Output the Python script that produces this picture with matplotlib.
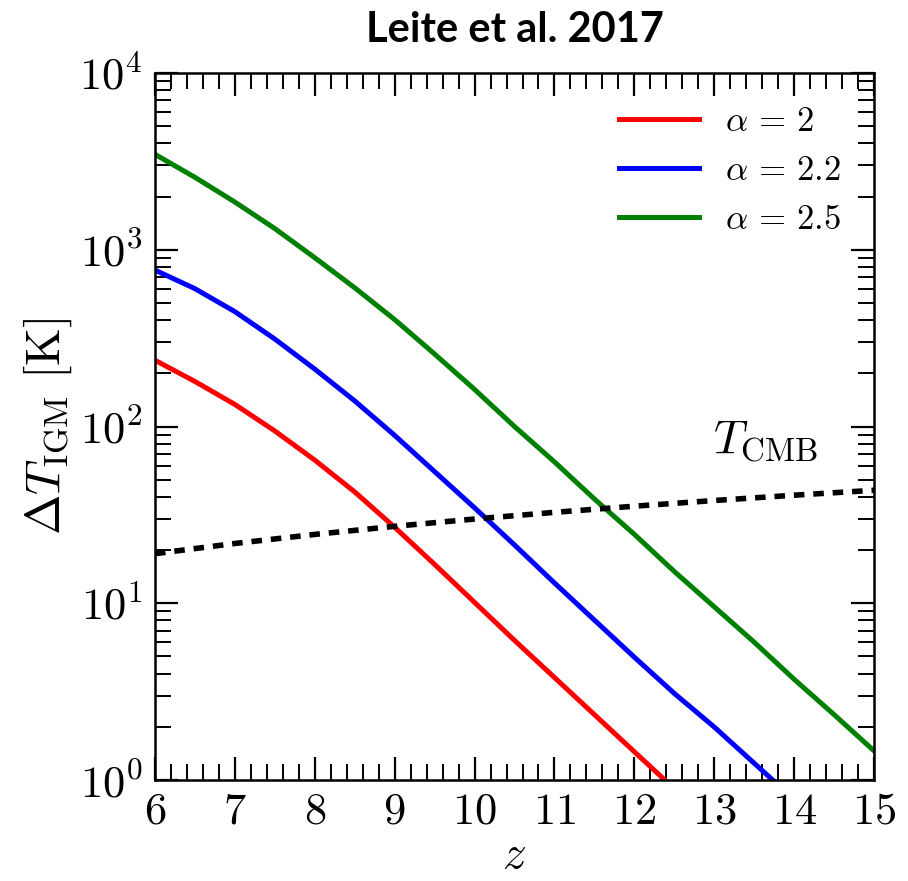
import numpy as np
import matplotlib
matplotlib.use('Agg')
import matplotlib.pyplot as plt
from matplotlib.ticker import MultipleLocator, LogLocator, NullFormatter

plt.rcParams['mathtext.fontset'] = 'cm'
plt.rcParams['font.family'] = 'serif'
plt.rcParams['font.serif'] = ['cmr10']
plt.rcParams['axes.formatter.use_mathtext'] = True

# redshift grid and IGM temperature increase (log10 K) for each spectral index
z = [6.0, 6.5, 7.0, 7.5, 8.0, 8.5, 9.0, 9.5, 10.0, 10.5, 11.0, 11.5, 12.0,
     12.5, 13.0, 13.5, 14.0, 14.5, 15.0]
log_dT_a20 = [2.375, 2.255, 2.125, 1.975, 1.81, 1.63, 1.43, 1.22, 1.005, 0.79,
              0.58, 0.37, 0.16, -0.05]
log_dT_a22 = [2.885, 2.78, 2.65, 2.495, 2.325, 2.145, 1.95, 1.745, 1.54, 1.33,
              1.115, 0.905, 0.695, 0.49, 0.30, 0.095, -0.11]
log_dT_a25 = [3.54, 3.41, 3.27, 3.12, 2.955, 2.785, 2.605, 2.41, 2.21, 2.00,
              1.80, 1.59, 1.39, 1.18, 0.98, 0.78, 0.57, 0.37, 0.165]

# CMB temperature at integer redshifts
z_cmb = [6, 7, 8, 9, 10, 11, 12, 13, 14, 15]
T_cmb = [19.08, 21.80, 24.53, 27.25, 29.98, 32.70, 35.43, 38.15, 40.88, 43.60]

series = [
    (log_dT_a20, 'r', r'$\alpha\,=\,2$'),
    (log_dT_a22, 'b', r'$\alpha\,=\,2.2$'),
    (log_dT_a25, 'g', r'$\alpha\,=\,2.5$'),
]

fig = plt.figure(figsize=(9.08, 8.81), dpi=100)
ax = fig.add_axes([0.1707, 0.1146, 0.7919, 0.8025])

for logv, c, lab in series:
    zz = np.array(z[:len(logv)])
    ax.plot(zz, 10 ** np.array(logv), color=c, lw=3.6, label=lab)

ax.plot(z_cmb, T_cmb, color='k', lw=4.0, dashes=(1.9, 1.6))

ax.set_yscale('log')
ax.set_xlim(6, 15)
ax.set_ylim(1, 1e4)

ax.xaxis.set_major_locator(MultipleLocator(1))
ax.xaxis.set_minor_locator(MultipleLocator(0.2))
ax.yaxis.set_major_locator(LogLocator(base=10, numticks=10))
ax.yaxis.set_minor_locator(LogLocator(base=10, subs=np.arange(2, 10), numticks=20))
ax.yaxis.set_minor_formatter(NullFormatter())

ax.tick_params(which='both', direction='in', top=True, right=True)
ax.tick_params(which='major', length=16.5, width=1.6, labelsize=32, pad=9)
ax.tick_params(which='minor', length=11.5, width=1.4)
for s in ax.spines.values():
    s.set_linewidth(1.8)

ax.set_xlabel(r'$z$', fontsize=34, labelpad=2)
ax.set_ylabel(r'$\Delta T_{\rm IGM}\ [{\rm K}]$', fontsize=35, labelpad=4)

ax.text(14.3, 71.6, r'$T_{\rm CMB}$', fontsize=34, ha='right', va='baseline')

ax.legend(loc='upper right', frameon=False, fontsize=25, handlelength=2.3,
          handletextpad=0.75, labelspacing=0.5, borderaxespad=0.55)

ax.set_title('Leite et al. 2017', fontsize=30, fontweight='bold',
             family=['Liberation Sans Narrow', 'Lato', 'DejaVu Sans'], pad=22)

fig.savefig('out.png', dpi=100)
